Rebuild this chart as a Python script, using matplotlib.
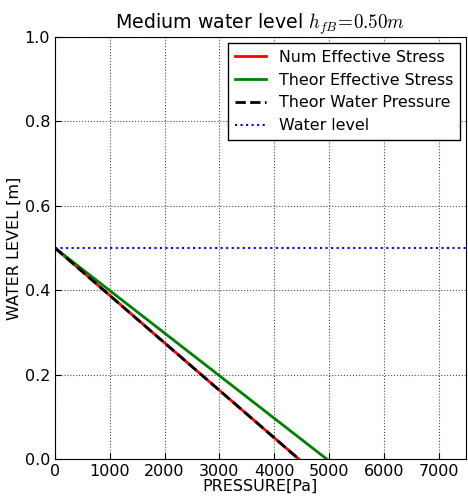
import numpy as np
import matplotlib
matplotlib.use("Agg")
import matplotlib.pyplot as plt

# valeurs
level = [0.5, 0.0]
num_eff = [0, 4450]
theor_eff = [0, 4960]
theor_water = [0, 4450]
water_level = 0.5

plt.rcParams['font.family'] = 'DejaVu Sans'
plt.rcParams['mathtext.fontset'] = 'cm'
plt.rcParams['xtick.direction'] = 'in'
plt.rcParams['ytick.direction'] = 'in'

fig = plt.figure(figsize=(4.68, 4.99), dpi=100)
ax = fig.add_axes([0.1175, 0.080, 0.878, 0.846])

ax.plot(num_eff, level, color="red", lw=2, label="Num Effective Stress")
ax.plot(theor_eff, level, color="green", lw=2, label="Theor Effective Stress")
ax.plot(theor_water, level, "k--", lw=2, label="Theor Water Pressure")
ax.axhline(water_level, color="blue", ls=":", lw=1.5, label="Water level")

ax.set_xlim(0, 7500)
ax.set_ylim(0, 1.0)
ax.set_xticks(np.arange(0, 7001, 1000))
ax.set_yticks(np.arange(0, 1.01, 0.2))
ax.grid(True, color="black", ls=":", lw=0.8, alpha=0.7)
ax.tick_params(labelsize=11.5, length=4)
ax.set_xlabel("PRESSURE[Pa]", fontsize=11.5, labelpad=0)
ax.set_ylabel("WATER LEVEL [m]", fontsize=11.5, labelpad=2)
ax.set_title("Medium water level $h_{fB}\\!=\\!0.50m$", fontsize=13.7)
ax.legend(loc="upper right", fontsize=11.4, fancybox=False, framealpha=1,
          edgecolor="black", handlelength=2, borderaxespad=0.4)

fig.savefig("out.png", dpi=100)
